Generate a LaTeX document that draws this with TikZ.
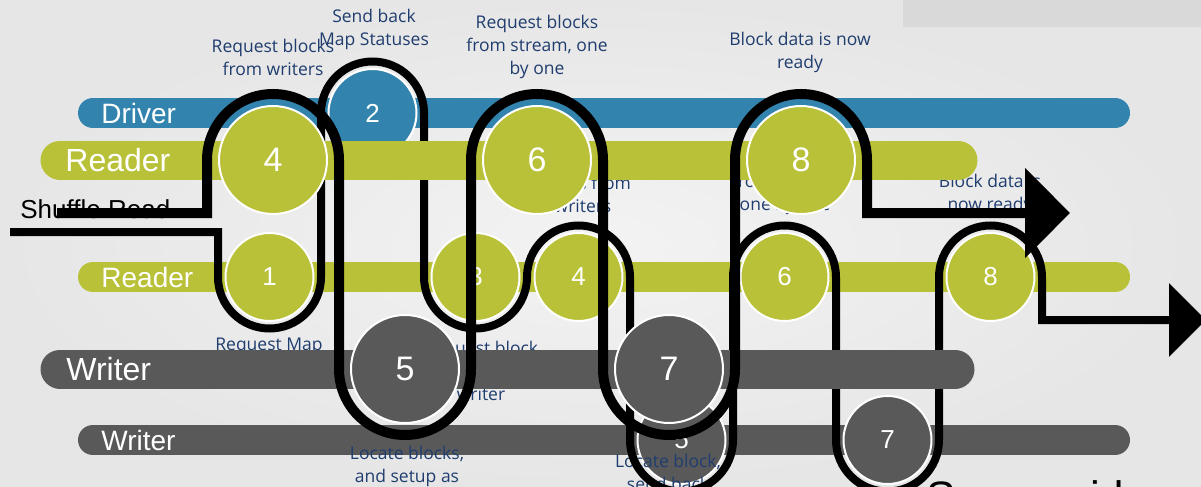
\documentclass[tikz,border=0pt]{standalone}
\usepackage{fontspec}
\setmainfont{Liberation Sans}
\newfontfamily\notefont{Open Sans}
\usetikzlibrary{arrows.meta}
\definecolor{Blue}{HTML}{3284AE}
\definecolor{Lime}{HTML}{B8C137}
\definecolor{Slate}{HTML}{595959}
\definecolor{Navy}{HTML}{1F3D6E}
\definecolor{Paper}{HTML}{F3F3F3}
\definecolor{PaperEdge}{HTML}{E6E6E6}
\definecolor{Tab}{HTML}{D9D9D9}
\tikzset{
  laneA/.style={line width=15pt,line cap=round},
  laneB/.style={line width=19.5pt,line cap=round},
  circA/.style={circle,draw=white,line width=1pt,inner sep=0pt,minimum size=44pt,
    text=white,font=\fontsize{13}{15}\selectfont},
  circB/.style={circle,draw=white,line width=1pt,inner sep=0pt,minimum size=54pt,
    text=white,font=\fontsize{17}{20}\selectfont},
  note/.style={text=Navy,align=center,inner sep=0pt,
    font=\notefont\fontsize{8.75}{11.5}\selectfont},
  loopA/.style={line width=4pt,-{Triangle[length=18.5pt,width=36pt]}},
  loopB/.style={line width=5pt,-{Triangle[length=22.5pt,width=44pt]}}
}

\begin{document}
\begin{tikzpicture}[x=.5pt,y=-.5pt]
    \useasboundingbox (0,0) rectangle (1201,487);
    \shade[inner color=Paper,outer color=PaperEdge] (0,0) rectangle (1201,487);
    \fill[Tab] (903,0) rectangle (1201,27);
    % back slide
    \foreach \y/\c/\t in {113/Blue/Driver,277/Lime/Reader,440/Slate/Writer}{
      \draw[laneA,\c] (93,\y)--(1115,\y);
      \node[anchor=west,inner sep=0pt,text=white,font=\fontsize{14}{16}\selectfont] (lane\t A) at (101,\y){\t};
    }
    \foreach \n/\x/\y/\c in {1/269.5/277/Lime,2/372.5/113/Blue,3/475.5/277/Lime,4/578.5/277/Lime,
      5/681.5/440/Slate,6/784.5/277/Lime,7/887.5/440/Slate,8/990.5/277/Lime}
      \node[circA,fill=\c] (a\n) at (\x,\y){\n};
    \node[note] (noteA2) at (374,29){Send back\\Map Statuses};
    \node[note] (noteA1) at (269,346){Request Map};
    \node[note] (noteA3) at (481,371){Request block\\[11.5pt]writer};
    \node[note] (noteA4) at (583,194){blocks from\\writers};
    \node[note] (noteA5) at (668,472){Locate block,\\send back};
    \node[note] (noteA6) at (785,194){from stream,\\one by one};
    \node[note] (noteA8) at (990,194){Block data is\\now ready};
    \draw[loopA] (10,232)--(218,232)--(218,277)
      arc[start angle=180,end angle=0,radius=51.5]--(321,113)
      arc[start angle=180,end angle=360,radius=51.5]--(424,277)
      arc[start angle=180,end angle=0,radius=51.5]
      arc[start angle=180,end angle=360,radius=51.5]--(630,440)
      arc[start angle=180,end angle=0,radius=51.5]--(733,277)
      arc[start angle=180,end angle=360,radius=51.5]--(836,440)
      arc[start angle=180,end angle=0,radius=51.5]--(939,277)
      arc[start angle=180,end angle=360,radius=51.5]--(1042,320)--(1206,320);
    % front slide
    \draw[laneB,Lime] (60,160)--(958,160);
    \draw[laneB,Slate] (60,369)--(955,369);
    \node[anchor=west,inner sep=0pt,text=white,font=\fontsize{16}{19}\selectfont] (laneReaderB) at (65,160){Reader};
    \node[anchor=west,inner sep=0pt,text=white,font=\fontsize{16}{19}\selectfont] (laneWriterB) at (66,369){Writer};
    \foreach \n/\x/\y/\c in {4/273/160/Lime,5/405/369/Slate,6/537/160/Lime,7/669/369/Slate,8/801/160/Lime}
      \node[circB,fill=\c] (b\n) at (\x,\y){\n};
    \node[note] (noteB4) at (273,57){Request blocks\\from writers};
    \node[note] (noteB6) at (537,47){Request blocks\\from stream, one\\by one};
    \node[note] (noteB8) at (800,52){Block data is now\\ready};
    \node[note] (noteB5) at (407,466){Locate blocks,\\and setup as};
    \node[anchor=base west,inner sep=0pt,font=\fontsize{13}{15}\selectfont] (title) at (20,218){Shuffle Read};
    \node[anchor=base west,inner sep=0pt,font=\fontsize{22}{26}\selectfont] (side) at (926,512){Server side};
    \draw[loopB] (57,213)--(207,213)--(207,160)
      arc[start angle=180,end angle=360,radius=66]--(339,369)
      arc[start angle=180,end angle=0,radius=66]--(471,160)
      arc[start angle=180,end angle=360,radius=66]--(603,369)
      arc[start angle=180,end angle=0,radius=66]--(735,160)
      arc[start angle=180,end angle=360,radius=66]--(867,213)--(1070,213);
  \end{tikzpicture}
\end{document}
